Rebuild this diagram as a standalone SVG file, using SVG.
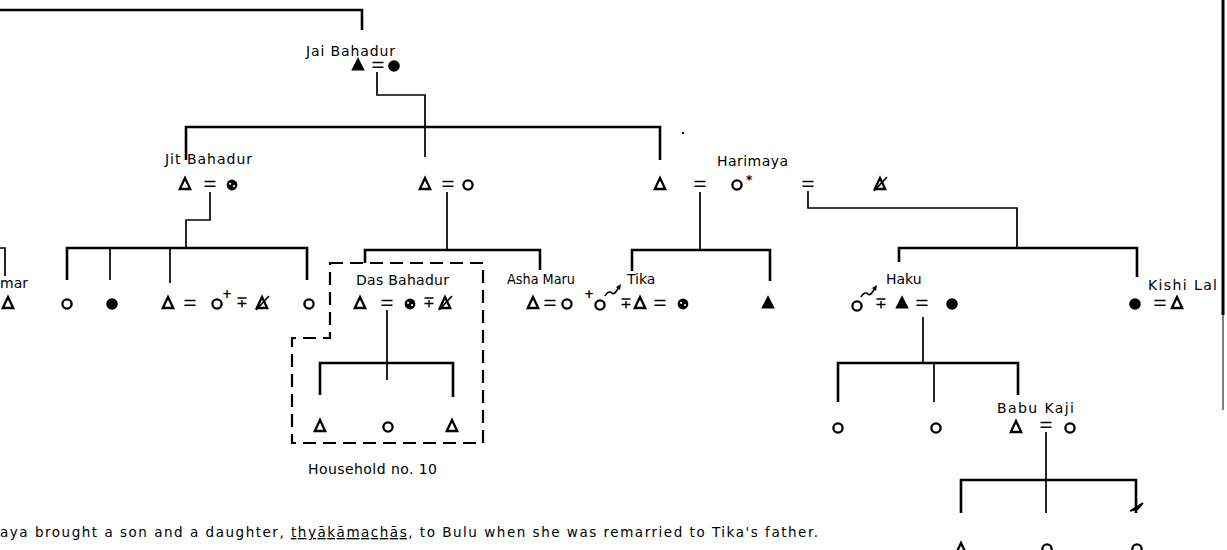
<svg xmlns="http://www.w3.org/2000/svg" width="1227" height="550" viewBox="0 0 1227 550">
<style>
.ln{fill:none;stroke:#000;stroke-width:1.7}
.bar{fill:none;stroke:#000;stroke-width:2.6}
.box{fill:none;stroke:#000;stroke-width:2.2;stroke-dasharray:13 7}
.lbl{font-family:"DejaVu Sans","Liberation Sans",sans-serif;font-size:14px;fill:#000}
.sup{font-family:"DejaVu Sans","Liberation Sans",sans-serif;font-size:12px;font-weight:bold;fill:#000}
.cap{font-family:"DejaVu Sans","Liberation Sans",sans-serif;font-size:13.5px;fill:#000}
</style>
<defs>
<g id="tO"><polygon points="0,-6 5.2,5 -5.2,5" fill="#fff" stroke="#000" stroke-width="2.3"/></g>
<g id="tF"><polygon points="0,-6.5 5.8,5 -5.8,5" fill="#000" stroke="#000" stroke-width="1.2"/></g>
<g id="cO"><circle r="4.6" fill="#fff" stroke="#000" stroke-width="2.3"/></g>
<g id="cF"><circle r="5.8" fill="#000"/></g>
<g id="cP"><circle r="5.4" fill="#000"/><circle cx="-1.9" cy="-1.2" r="1.1" fill="#fff"/><circle cx="2" cy="1" r="1.1" fill="#fff"/></g>
<g id="eq"><path d="M-5.5,-2.6H5.5M-5.5,2.3H5.5" fill="none" stroke="#000" stroke-width="1.5"/></g>
<g id="mp"><path d="M-4.5,-4H4.5M-4.5,1.5H4.5M0,-2V5.5" fill="none" stroke="#000" stroke-width="1.4"/></g>
<g id="tX"><use href="#tO"/><path d="M-6,7L7,-7" fill="none" stroke="#000" stroke-width="1.7"/></g>
<g id="curl"><path d="M0,0 C2,-4 5,-5 7,-3 C9,-1 11,-4 14,-9" fill="none" stroke="#000" stroke-width="1.6"/><path d="M16,-12 L11,-9 L15,-6 Z" fill="#000"/></g>
</defs>

<g id="connectors">
<path class="bar" d="M0,10H362V30"/>
<path class="ln" d="M377,72V95H425V157"/>
<path class="bar" d="M186,160V127H660V160"/>
<path class="ln" d="M210,192V220H186V248"/>
<path class="bar" d="M67,280V248H307V280"/>
<path class="ln" d="M110,248V280M170,248V283"/>
<path class="ln" d="M0,248H5V276"/>
<path class="ln" d="M447,192V250"/>
<path class="bar" d="M365,263V250H540V270"/>
<path class="ln" d="M387,310V363"/>
<path class="bar" d="M320,395V363H453V397"/>
<path class="ln" d="M387,363V380"/>
<path class="ln" d="M700,192V250"/>
<path class="bar" d="M632,271V250H770V281"/>
<path class="ln" d="M808,191V208H1017V248"/>
<path class="bar" d="M899,262V248H1137V277"/>
<path class="ln" d="M923,317V363"/>
<path class="bar" d="M838,402V363H1018V395"/>
<path class="ln" d="M934,363V402"/>
<path class="ln" d="M1046,432V513"/>
<path class="bar" d="M961,513V480H1136V513"/>
<path d="M1130,511L1143,503L1138,509Z" fill="#000" stroke="#000" stroke-width="1.5"/>
</g>

<g id="household-10">
<path class="box" d="M330,263H483V443H292V338H330Z"/>
<text class="lbl" x="308" y="474" textLength="129" lengthAdjust="spacing">Household no. 10</text>
</g>

<g id="jai-bahadur">
<text class="lbl" x="306" y="56" textLength="89" lengthAdjust="spacing">Jai Bahadur</text>
<use href="#tF" x="358" y="65"/><use href="#eq" x="378" y="65"/><use href="#cF" x="394" y="66"/>
</g>

<g id="jit-bahadur">
<text class="lbl" x="165" y="164" textLength="87" lengthAdjust="spacing">Jit Bahadur</text>
<use href="#tO" x="185" y="184"/><use href="#eq" x="210" y="184"/><use href="#cP" x="232" y="185"/>
</g>

<g id="middle-couple">
<use href="#tO" x="425" y="184"/><use href="#eq" x="448" y="184"/><use href="#cO" x="468" y="185"/>
</g>

<g id="harimaya">
<text class="lbl" x="717" y="166" textLength="71" lengthAdjust="spacing">Harimaya</text>
<use href="#tO" x="660" y="184"/><use href="#eq" x="700" y="184"/><use href="#cO" x="737" y="185"/>
<text class="sup" x="746" y="184" font-size="17">*</text>
<use href="#eq" x="808" y="184"/>
<use href="#tX" x="880" y="184"/>
<circle cx="683" cy="133" r="1.2" fill="#000"/>
</g>

<g id="left-child">
<text class="lbl" x="0" y="288">mar</text>
<use href="#tO" x="8" y="303"/>
</g>

<g id="jit-children">
<use href="#cO" x="67" y="304"/>
<use href="#cF" x="112" y="304"/>
<use href="#tO" x="168" y="303"/><use href="#eq" x="190" y="303"/><use href="#cO" x="217" y="304"/>
<text class="sup" x="222" y="298">+</text>
<use href="#mp" x="242" y="302"/>
<use href="#tX" x="262" y="303"/>
<use href="#cO" x="309" y="304"/>
</g>

<g id="das-bahadur">
<text class="lbl" x="356" y="285" textLength="93" lengthAdjust="spacing">Das Bahadur</text>
<use href="#tO" x="360" y="303"/><use href="#eq" x="387" y="303"/><use href="#cP" x="410" y="304"/>
<use href="#mp" x="429" y="302"/><use href="#tX" x="445" y="303"/>
</g>

<g id="das-children">
<use href="#tO" x="320" y="426"/><use href="#cO" x="388" y="427"/><use href="#tO" x="452" y="426"/>
</g>

<g id="asha-maru">
<text class="lbl" x="507" y="284" textLength="68" lengthAdjust="spacingAndGlyphs">Asha Maru</text>
<use href="#tO" x="533" y="303"/><use href="#eq" x="550" y="303"/><use href="#cO" x="567" y="304"/>
</g>

<g id="tika">
<text class="sup" x="584" y="298">+</text>
<use href="#cO" x="600" y="305"/>
<use href="#curl" x="605" y="296"/>
<text class="lbl" x="627" y="284">Tika</text>
<use href="#mp" x="626" y="303"/><use href="#tO" x="640" y="303"/>
<use href="#eq" x="660" y="303"/><use href="#cP" x="683" y="304"/>
</g>

<g id="brother">
<use href="#tF" x="768" y="303"/>
</g>

<g id="haku">
<text class="lbl" x="886" y="284">Haku</text>
<use href="#cO" x="857" y="306"/>
<use href="#curl" x="861" y="297"/>
<use href="#mp" x="881" y="303"/><use href="#tF" x="902" y="303"/>
<use href="#eq" x="922" y="303"/><use href="#cF" x="952" y="304"/>
</g>

<g id="kishi-lal">
<text class="lbl" x="1148" y="290" textLength="69" lengthAdjust="spacing">Kishi Lal</text>
<use href="#cF" x="1135" y="304"/><use href="#eq" x="1160" y="303"/><use href="#tO" x="1177" y="303"/>
</g>

<g id="haku-children">
<use href="#cO" x="838" y="428"/><use href="#cO" x="936" y="428"/>
</g>

<g id="babu-kaji">
<text class="lbl" x="997" y="413" textLength="77" lengthAdjust="spacing">Babu Kaji</text>
<use href="#tO" x="1016" y="427"/><use href="#eq" x="1046" y="425"/><use href="#cO" x="1070" y="428"/>
</g>

<g id="babu-children">
<use href="#tO" x="961" y="549"/><use href="#cO" x="1047" y="549"/><use href="#cO" x="1137" y="549"/>
</g>

<g id="caption">
<text class="cap" x="0" y="537" textLength="818" lengthAdjust="spacing">aya  brought a son and a daughter, <tspan text-decoration="underline">thyākāmachās</tspan>, to Bulu when she was remarried to Tika's father.</text>
</g>

<g id="page-edge">
<path d="M1223,0V315" stroke="#000" stroke-width="3"/>
<path d="M1223,315V410" stroke="#000" stroke-width="1"/>
</g>
</svg>
